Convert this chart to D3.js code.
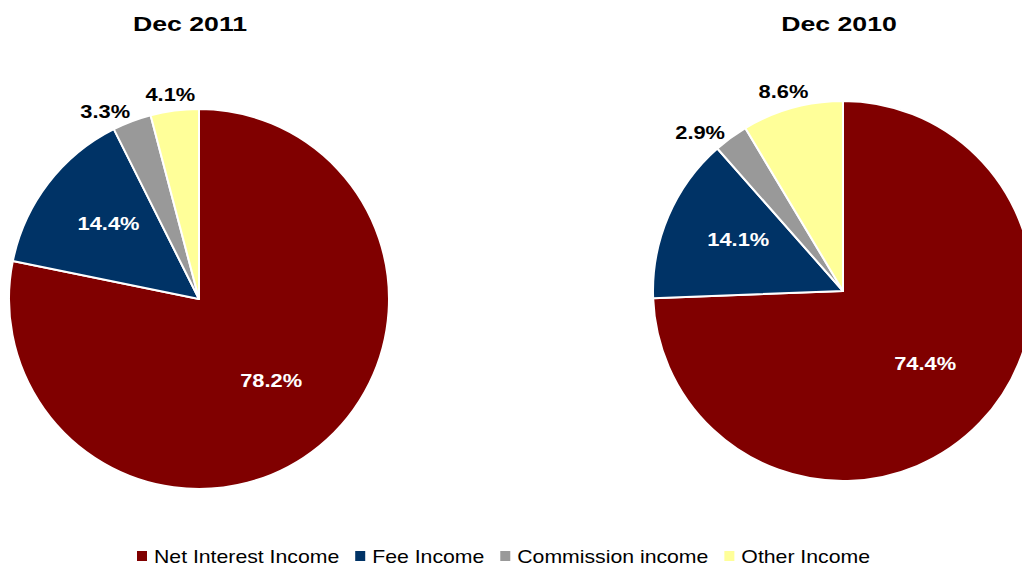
<!DOCTYPE html>
<html>
<head>
<meta charset="utf-8">
<script src="https://cdn.jsdelivr.net/npm/d3@7"></script>
<style>
  body { margin: 0; background: #fff; }
  svg { font-family: "Liberation Sans", Arial, sans-serif; display: block; }
</style>
</head>
<body>
<svg width="1022" height="569"></svg>
<script>
let width = 1022,
    height = 569;

let categories = ["Net Interest Income", "Fee Income", "Commission income", "Other Income"];
let colors = ["#800000", "#003366", "#999999", "#FFFF99"];
let titles = ["Dec 2011", "Dec 2010"];
let values2011 = [78.2, 14.4, 3.3, 4.1];
let values2010 = [74.4, 14.1, 2.9, 8.6];

// the reference text is a little wider than Liberation Sans
let titleStretch = 1.27,
    labelStretch = 1.15,
    legendStretch = 1.18;

let pies = [
    {title: titles[0], values: values2011, cx: 199, cy: 299, r: 190, tx: 190},
    {title: titles[1], values: values2010, cx: 843, cy: 291, r: 190, tx: 839}
];

let color = d3.scaleOrdinal().domain(categories).range(colors);

let svg = d3.select("svg");

let pie = d3.pie().sort(null).value(d => d.value);

let labelW = 50, labelH = 18;

pies.forEach(p => {
    let data = categories.map((c, i) => ({name: c, value: p.values[i]}));
    let arcs = pie(data);
    let arc = d3.arc().innerRadius(0).outerRadius(p.r);
    let inner = d3.arc().innerRadius(p.r * 0.6).outerRadius(p.r * 0.6);

    let g = svg.append("g")
        .attr("transform", `translate(${p.cx},${p.cy})`);

    g.selectAll("path")
        .data(arcs)
        .enter().append("path")
        .attr("d", arc)
        .attr("fill", d => color(d.data.name))
        .attr("stroke", "#fff")
        .attr("stroke-width", 2)
        .attr("stroke-linejoin", "round");

    // small slices get outside labels; when another outside label follows,
    // slide toward the start of the slice to leave room (like Excel best fit)
    let outsidePos = (d, i) => {
        let next = arcs[i + 1];
        let crowded = next && next.data.value <= 10;
        let a = crowded
            ? d.startAngle + (d.endAngle - d.startAngle) * 0.15
            : (d.startAngle + d.endAngle) / 2;
        let R = p.r + 8;
        let x = Math.sin(a) * (R + labelW / 2),
            y = -Math.cos(a) * (R + labelH / 2);
        return [x, y];
    };

    g.selectAll("text")
        .data(arcs)
        .enter().append("text")
        .attr("transform", (d, i) => {
            let big = d.data.value > 10;
            let [x, y] = big ? inner.centroid(d) : outsidePos(d, i);
            return `translate(${x},${y}) scale(${labelStretch},1)`;
        })
        .attr("text-anchor", "middle")
        .attr("dy", d => d.data.value > 10 ? "0em" : "0.36em")
        .attr("font-size", 19)
        .attr("font-weight", "bold")
        .attr("fill", d => d.data.value > 10 ? "#fff" : "#000")
        .text(d => d.data.value.toFixed(1) + "%");

    svg.append("text")
        .attr("transform", `translate(${p.tx},31) scale(${titleStretch},1)`)
        .attr("text-anchor", "middle")
        .attr("font-size", 21)
        .attr("font-weight", "bold")
        .text(p.title);
});

// legend
let legend = svg.append("g").attr("class", "legend");
let lx = 137;
categories.forEach((c, i) => {
    let item = legend.append("g").attr("transform", `translate(${lx},0)`);
    item.append("rect")
        .attr("x", 0)
        .attr("y", 551)
        .attr("width", 10)
        .attr("height", 10)
        .attr("fill", color(c));
    let t = item.append("text")
        .attr("transform", `translate(17,563) scale(${legendStretch},1)`)
        .attr("font-size", 18)
        .attr("fill", "#000")
        .text(c);
    lx += 17 + t.node().getComputedTextLength() * legendStretch + 16;
});
</script>
</body>
</html>
